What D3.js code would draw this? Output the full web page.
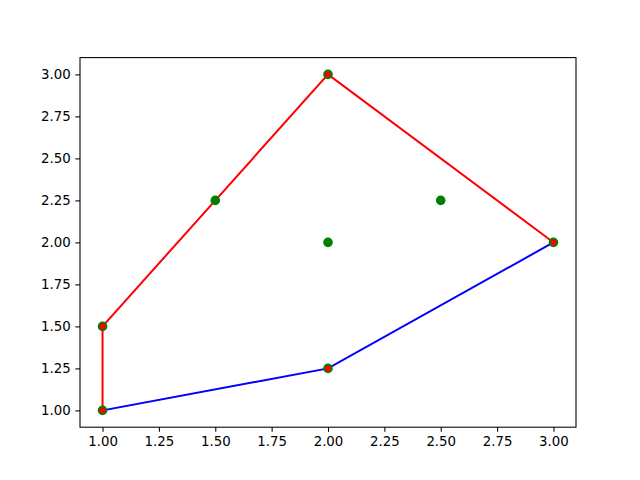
<!DOCTYPE html>
<html><head><meta charset="utf-8">
<script src="https://d3js.org/d3.v7.min.js"></script>
<style>body{margin:0;background:#fff}svg{display:block}</style>
</head><body>
<script>
const pointsX = [1, 1, 1.5, 2, 2, 2.5, 3, 2];
const pointsY = [1, 1.5, 2.25, 3, 2, 2.25, 2, 1.25];
const upperX = [1, 1, 2, 3];
const upperY = [1, 1.5, 3, 2];
const lowerX = [1, 2, 3];
const lowerY = [1, 1.25, 2];
const hullX = [1, 1, 2, 3, 2];
const hullY = [1, 1.5, 3, 2, 1.25];
const xTicks = [1, 1.25, 1.5, 1.75, 2, 2.25, 2.5, 2.75, 3];
const yTicks = [1, 1.25, 1.5, 1.75, 2, 2.25, 2.5, 2.75, 3];

const W = 640, H = 480;
const L = 80, R = 576, T = 57.6, B = 427.2;
const svg = d3.select("body").append("svg").attr("width", W).attr("height", H);
const x = d3.scaleLinear().domain([0.9, 3.1]).range([L, R]);
const y = d3.scaleLinear().domain([0.9, 3.1]).range([B, T]);
const font = "DejaVu Sans, sans-serif";

const xa = svg.append("g").attr("transform", `translate(0,${B})`)
  .call(d3.axisBottom(x).tickValues(xTicks).tickFormat(d3.format(".2f")).tickSize(4.67).tickPadding(4.7));
const ya = svg.append("g").attr("transform", `translate(${L},0)`)
  .call(d3.axisLeft(y).tickValues(yTicks).tickFormat(d3.format(".2f")).tickSize(4.67).tickPadding(4.7));
[xa, ya].forEach(a => {
  a.select(".domain").remove();
  a.selectAll("line").attr("stroke", "#000").attr("stroke-width", 1.07);
  a.selectAll("text").attr("font-family", font).attr("font-size", "13.33px").attr("fill", "#000");
});

const line = d3.line().x(d => x(d[0])).y(d => y(d[1]));
svg.append("path").attr("d", line(d3.zip(upperX, upperY))).attr("fill", "none")
  .attr("stroke", "#ff0000").attr("stroke-width", 2).attr("stroke-linecap", "square");
svg.append("path").attr("d", line(d3.zip(lowerX, lowerY))).attr("fill", "none")
  .attr("stroke", "#0000ff").attr("stroke-width", 2).attr("stroke-linecap", "square");

const pts = d3.range(pointsX.length);
svg.append("g").selectAll("circle").data(pts).join("circle")
  .attr("cx", i => x(pointsX[i])).attr("cy", i => y(pointsY[i])).attr("r", 4.8).attr("fill", "#008000");

svg.append("g").selectAll("circle").data(d3.range(hullX.length)).join("circle")
  .attr("cx", i => x(hullX[i])).attr("cy", i => y(hullY[i])).attr("r", 3).attr("fill", "#ff0000");

svg.append("rect").attr("x", L).attr("y", T).attr("width", R - L).attr("height", B - T)
  .attr("fill", "none").attr("stroke", "#000").attr("stroke-width", 1.07);
</script>
</body></html>
